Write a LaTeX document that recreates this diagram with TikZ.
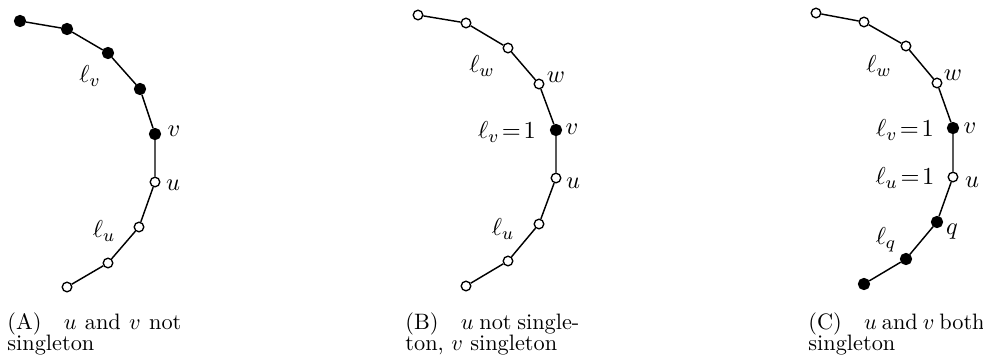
\documentclass[tikz,border=0pt]{standalone}
\begin{document}
\begin{tikzpicture}[x=0.4484pt,y=-0.4484pt,
  vtx/.style={circle,draw=black,line width=0.6pt,inner sep=0pt},
  bv/.style={vtx,fill=black,minimum size=4.9pt},
  wv/.style={vtx,fill=white,minimum size=4.3pt},
  lab/.style={inner sep=0pt,font=\fontsize{10.8}{13}\selectfont},
  capt/.style={inner sep=0pt,anchor=base west},
  edge/.style={line width=0.65pt}]
\useasboundingbox (0,0) rectangle (983,358);
% ---------- Panel A ----------
\node[bv] (A1) at (20,21) {};
\node[bv] (A2) at (67,29) {};
\node[bv] (A3) at (108,53) {};
\node[bv] (A4) at (140,89) {};
\node[bv] (A5) at (155,134) {};
\node[wv] (A6) at (155,182) {};
\node[wv] (A7) at (139,227) {};
\node[wv] (A8) at (108,263) {};
\node[wv] (A9) at (67,287) {};
\draw[edge] (A1) -- (A2) -- (A3) -- (A4) -- (A5) -- (A6) -- (A7) -- (A8) -- (A9);
\node[lab] (Alv) at (90,76) {$\ell_v$};
\node[lab] (Av) at (174,131) {$v$};
\node[lab] (Au) at (173,185) {$u$};
\node[lab] (Alu) at (104,231) {$\ell_u$};
\node[capt] (Acap1) at (7,329) {\makebox[78pt][s]{(A)\quad $u$ and $v$ not}};
\node[capt] (Acap2) at (7,350) {singleton};
% ---------- Panel B ----------
\node[wv] (B1) at (418,15) {};
\node[wv] (B2) at (466,23) {};
\node[wv] (B3) at (508,48) {};
\node[wv] (B4) at (539,84) {};
\node[bv] (B5) at (556,130) {};
\node[wv] (B6) at (556,178) {};
\node[wv] (B7) at (539,224) {};
\node[wv] (B8) at (508,261) {};
\node[wv] (B9) at (466,286) {};
\draw[edge] (B1) -- (B2) -- (B3) -- (B4) -- (B5) -- (B6) -- (B7) -- (B8) -- (B9);
\node[lab] (Blw) at (482,66) {$\ell_w$};
\node[lab] (Bw) at (556,77) {$w$};
\node[lab] (Blv) at (507,132) {$\ell_v\mskip2mu{=}\mskip2mu1$};
\node[lab] (Bv) at (572,129) {$v$};
\node[lab] (Bu) at (573,183) {$u$};
\node[lab] (Blu) at (503,229) {$\ell_u$};
\node[capt] (Bcap1) at (405,329) {\makebox[78pt][s]{(B)\quad $u$ not single-}};
\node[capt] (Bcap2) at (405,350) {ton, $v$ singleton};
% ---------- Panel C ----------
\node[wv] (C1) at (816,13) {};
\node[wv] (C2) at (864,22) {};
\node[wv] (C3) at (906,46) {};
\node[wv] (C4) at (937,83) {};
\node[bv] (C5) at (953,128) {};
\node[wv] (C6) at (953,177) {};
\node[bv] (C7) at (937,222) {};
\node[bv] (C8) at (906,259) {};
\node[bv] (C9) at (864,284) {};
\draw[edge] (C1) -- (C2) -- (C3) -- (C4) -- (C5) -- (C6) -- (C7) -- (C8) -- (C9);
\node[lab] (Clw) at (879,66) {$\ell_w$};
\node[lab] (Cw) at (953,75) {$w$};
\node[lab] (Clv) at (905,130) {$\ell_v\mskip2mu{=}\mskip2mu1$};
\node[lab] (Cv) at (970,128) {$v$};
\node[lab] (Clu) at (905,178) {$\ell_u\mskip2mu{=}\mskip2mu1$};
\node[lab] (Cu) at (972,182) {$u$};
\node[lab] (Cq) at (952,232) {$q$};
\node[lab] (Clq) at (886,240) {$\ell_q$};
\node[capt] (Ccap1) at (808,329) {\makebox[78pt][s]{(C)\quad $u$ and $v$ both}};
\node[capt] (Ccap2) at (808,350) {singleton};
\end{tikzpicture}
\end{document}
